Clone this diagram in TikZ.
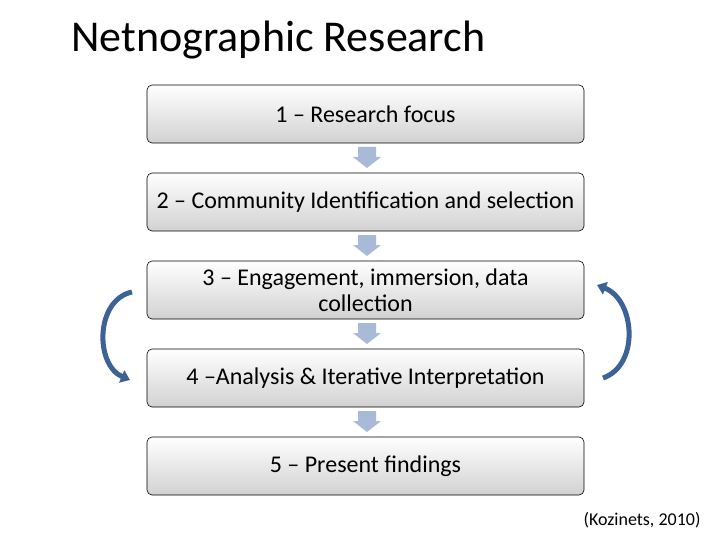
\documentclass[tikz,border=0pt]{standalone}
\usepackage{fontspec}
\setmainfont{Carlito}
\usetikzlibrary{arrows.meta}
\definecolor{downc}{RGB}{168,186,216}
\definecolor{curvc}{RGB}{60,98,150}
\begin{document}
\begin{tikzpicture}[x=1pt,y=-1pt,
  stepbox/.style={draw=black,line width=0.6pt,rounded corners=5pt,top color=white,bottom color=black!18,minimum width=437pt,minimum height=58pt,align=center,font=\fontsize{24}{26}\selectfont,inner sep=2pt},
  carr/.style={draw=curvc,line width=5pt,-{Triangle[length=9pt,width=13pt]}}]
\useasboundingbox (0,0) rectangle (720,540);
\node[anchor=west,font=\fontsize{44}{48}\selectfont] (title) at (68,40) {Netnographic Research};
\node[stepbox] (s1) at (365.5,114) {1 -- Research focus};
\node[stepbox] (s2) at (365.5,202) {2 -- Community Identification and selection};
\node[stepbox] (s3) at (365.5,290) {3 -- Engagement, immersion, data\\collection};
\node[stepbox] (s4) at (365.5,378) {4 --Analysis \& Iterative Interpretation};
\node[stepbox] (s5) at (365.5,466) {5 -- Present findings};
\foreach \y in {147,235,323,411}{
  \fill[downc] (358,\y) -- (376,\y) -- (376,\y+10) -- (381,\y+10) -- (367,\y+21) -- (353,\y+10) -- (358,\y+10) -- cycle;
}
\coordinate (la) at (132,292);
\coordinate (lb) at (130,380);
\draw[carr] (la) .. controls (95,300) and (95,365) .. (lb);
\coordinate (ra) at (603,378);
\coordinate (rb) at (597,285);
\draw[carr] (ra) .. controls (640,365) and (635,300) .. (rb);
\node[anchor=east,font=\fontsize{18}{20}\selectfont] (cite) at (704,520) {(Kozinets, 2010)};
\end{tikzpicture}
\end{document}
